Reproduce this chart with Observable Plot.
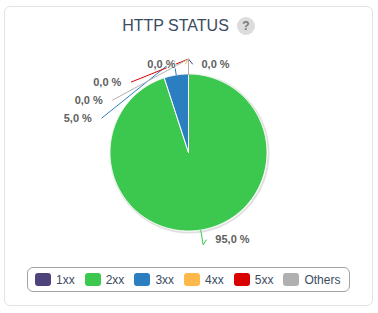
<!DOCTYPE html>
<html><head><meta charset="utf-8">
<script src="https://cdn.jsdelivr.net/npm/d3@7"></script>
<script src="https://cdn.jsdelivr.net/npm/@observablehq/plot@0.6"></script>
<style>
body{margin:0;background:#fff;font-family:"Liberation Sans",Arial,Helvetica,sans-serif;width:378px;height:313px;overflow:hidden;position:relative;}
#card{position:absolute;left:4px;top:6px;width:369px;height:300px;border:1px solid #e3e3e3;border-radius:6px;box-sizing:border-box;}
#title{position:absolute;left:4px;width:369px;top:15px;height:22px;display:flex;justify-content:center;align-items:center;font-size:16px;color:#3b4b61;}
#title .help{display:inline-block;width:18px;height:18px;border-radius:9px;background:#dcdcdc;color:#7a7a7a;font-weight:bold;font-size:12px;line-height:18px;text-align:center;margin-left:8px;}
#chart{position:absolute;left:0;top:40px;}
#legend{position:absolute;left:27px;top:267px;width:323px;height:25px;border:1px solid #a3a3a3;border-radius:6px;box-sizing:border-box;display:flex;align-items:center;padding-left:7px;font-size:12px;color:#3b4b61;}
#legend .item{display:flex;align-items:center;margin-right:10px;}
#legend .sw{width:16px;height:13px;border-radius:3px;margin-right:5px;}
</style></head><body>
<div id="card"></div>
<div id="title"><span>HTTP STATUS</span><span class="help">?</span></div>
<div id="chart"></div>
<div id="legend"></div>
<script>
// ---- data ----
const categories = ["1xx", "2xx", "3xx", "4xx", "5xx", "Others"];
const values = [0, 95, 5, 0, 0, 0];
const colors = ["#4f437b", "#3cc84e", "#2b7fc0", "#fdb94a", "#d90000", "#b0b0b0"];

// ---- layout ----
const W = 378, H = 215, CX = 188, CY = 112;
const R0 = 78.5, LABEL_R = 88.5, BEND_R = 93.5, CONN_R = 92, SLOT = 18;
const total = d3.sum(values);
const fmt = v => (v / total * 100).toFixed(1).replace(".", ",") + " %";

const arcs = d3.pie().sort(null).value(d => d)(values);

// slice polygons
const slicePts = [];
arcs.forEach((a, i) => {
  if (values[i] <= 0) return;
  slicePts.push({k: i, x: 0, y: 0, c: colors[i]});
  const n = Math.max(2, Math.ceil((a.endAngle - a.startAngle) / 0.01));
  for (let j = 0; j <= n; j++) {
    const t = a.startAngle + (a.endAngle - a.startAngle) * j / n;
    slicePts.push({k: i, x: Math.sin(t) * R0, y: Math.cos(t) * R0, c: colors[i]});
  }
  slicePts.push({k: i, x: 0, y: 0, c: colors[i]});
});

// labels
const items = arcs.map((a, i) => {
  const mid = (a.startAngle + a.endAngle) / 2;
  return {i, mid, left: mid >= Math.PI, ny: Math.cos(mid) * LABEL_R};
});
const rightItems = items.filter(d => !d.left);
rightItems.forEach(d => { d.y = d.ny; d.cx = Math.sin(d.mid) * LABEL_R + 4; d.tx = d.cx + 9; });
const leftItems = items.filter(d => d.left)
  .sort((a, b) => (b.mid - a.mid) || (a.i - b.i)); // top to bottom
let prev = Infinity;
leftItems.forEach(d => {
  d.y = Math.min(d.ny, prev - SLOT); prev = d.y;
  const yy = d.y + 3.9;
  d.cx = -Math.sqrt(Math.max(CONN_R * CONN_R - yy * yy, 0)) - 3;
  d.tx = d.cx - 10;
});
const conn = [];
items.forEach(d => {
  conn.push({k: d.i, x: Math.sin(d.mid) * R0, y: Math.cos(d.mid) * R0, c: colors[d.i]});
  conn.push({k: d.i, x: Math.sin(d.mid) * BEND_R, y: Math.cos(d.mid) * BEND_R, c: colors[d.i]});
  conn.push({k: d.i, x: d.cx, y: d.y, c: colors[d.i]});
});
const textOpts = (anchor) => ({x: "tx", y: "y", text: d => fmt(values[d.i]), textAnchor: anchor,
  fontSize: 11, fontWeight: "bold", fill: "#606060", stroke: "white", strokeWidth: 2,
  fontFamily: "Liberation Sans, Arial, sans-serif"});

const chart = Plot.plot({
  width: W, height: H, margin: 0,
  x: {domain: [-CX, W - CX], axis: null},
  y: {domain: [-(H - CY), CY], axis: null},
  color: {type: "identity"},
  style: {background: "transparent", overflow: "visible"},
  marks: [
    Plot.dot([{x: 0, y: 0}], {x: "x", y: "y", r: R0 + 0.5, fill: "none", stroke: "#000", strokeOpacity: 0.12, strokeWidth: 2, dx: 1, dy: 1}),
    Plot.line(slicePts, {x: "x", y: "y", z: "k", fill: "c", stroke: "white", strokeWidth: 1, strokeLinejoin: "round", curve: "linear"}),
    Plot.line(conn, {x: "x", y: "y", z: "k", stroke: "c", strokeWidth: 1, curve: "linear"}),
    Plot.text(rightItems, textOpts("start")),
    Plot.text(leftItems, textOpts("end"))
  ]
});
document.getElementById("chart").appendChild(chart);

// legend
const lg = document.getElementById("legend");
categories.forEach((c, i) => {
  const it = document.createElement("div"); it.className = "item";
  const sw = document.createElement("div"); sw.className = "sw"; sw.style.background = colors[i];
  const tx = document.createElement("span"); tx.textContent = c;
  it.appendChild(sw); it.appendChild(tx); lg.appendChild(it);
});
</script>
</body></html>
